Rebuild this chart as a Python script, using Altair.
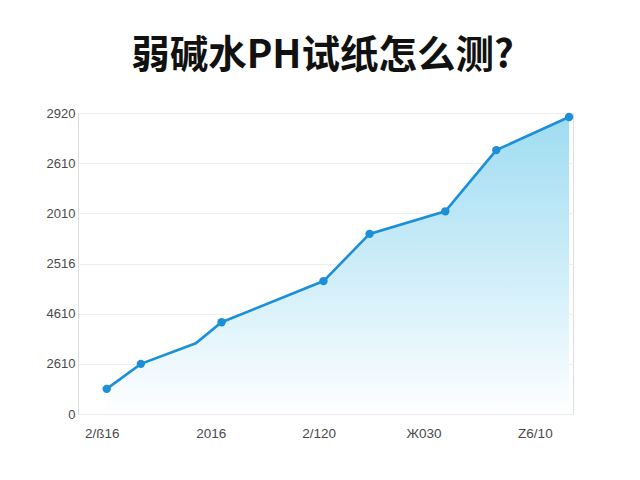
import altair as alt
import pandas as pd

# data
x_pos = [5.8, 12.7, 23.8, 29.0, 49.6, 58.9, 74.2, 84.5, 99.2]
y_val = [0.50, 1.00, 1.41, 1.83, 2.65, 3.59, 4.04, 5.26, 5.92]
marker = [1, 1, 0, 1, 1, 1, 1, 1, 1]

y_tick_values = [0, 1, 2, 3, 4, 5, 6]
y_tick_labels = ["0", "2610", "4610", "2516", "2010", "2610", "2920"]
x_tick_values = [4.8, 26.8, 48.6, 69.8, 92.3]
x_tick_labels = ["2/ß16", "2016", "2/120", "Ж030", "Z6/10"]

title_text = "弱碱水PH试纸怎么测?"

df = pd.DataFrame({"x": x_pos, "y": y_val, "m": marker})

def label_expr(values, labels):
    parts = " : ".join(
        f"datum.value == {v} ? '{l}'" for v, l in zip(values, labels)
    )
    return parts + " : ''"

x_enc = alt.X(
    "x:Q",
    scale=alt.Scale(domain=[0, 100], nice=False, zero=False),
    axis=alt.Axis(
        values=x_tick_values,
        labelExpr=label_expr(x_tick_values, x_tick_labels),
        grid=False, domain=False, ticks=False, title=None,
        labelPadding=12, labelFontSize=13.5, labelColor="#4a4a4a",
        labelFont="Liberation Sans",
    ),
)
y_enc = alt.Y(
    "y:Q",
    scale=alt.Scale(domain=[0, 6], nice=False),
    axis=alt.Axis(
        values=y_tick_values,
        labelExpr=label_expr(y_tick_values, y_tick_labels),
        grid=True, gridColor="#eeeeee", gridWidth=1,
        domain=False, ticks=False, title=None,
        labelPadding=3, labelFontSize=13, labelColor="#4a4a4a",
        labelFont="Liberation Sans",
    ),
)

base = alt.Chart(df).encode(x=x_enc, y=y_enc)

area = base.mark_area(
    line=False,
    color=alt.Gradient(
        gradient="linear",
        stops=[
            alt.GradientStop(color="#9fdcf1", offset=0),
            alt.GradientStop(color="#d6f0fa", offset=0.6),
            alt.GradientStop(color="#ffffff", offset=1),
        ],
        x1=1, x2=1, y1=0, y2=1,
    ),
)
line = base.mark_line(color="#1b8fd8", strokeWidth=2.6)
points = base.transform_filter("datum.m == 1").mark_circle(
    color="#1b8fd8", size=70, opacity=1
)

chart = (
    alt.layer(area, line, points)
    .properties(
        width=495,
        height=301,
        autosize=alt.AutoSizeParams(type="none"),
        padding={"left": 70, "top": 105, "right": 59, "bottom": 58},
        title=alt.TitleParams(
            title_text,
            font="Noto Sans CJK SC",
            fontSize=38.5,
            fontWeight="bold",
            color="#111111",
            anchor="middle",
            baseline="bottom",
            offset=38,
            dx=-3,
            dy=45,
        ),
    )
    .configure_view(stroke="transparent", strokeWidth=0)
    .configure(background="white")
)

chart.save("out.html", embed_options={"renderer": "svg", "actions": False})
